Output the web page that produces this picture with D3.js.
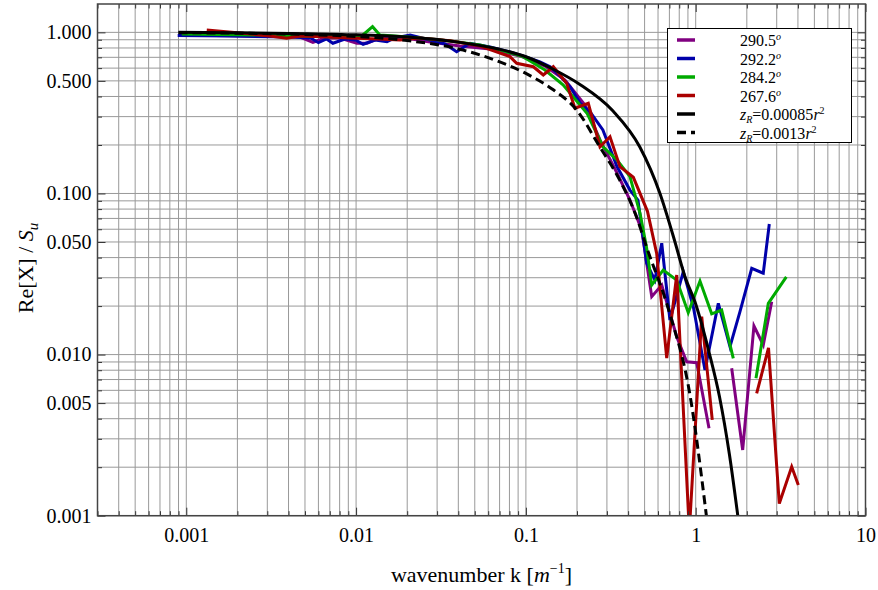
<!DOCTYPE html>
<html><head><meta charset="utf-8">
<script src="https://cdn.jsdelivr.net/npm/d3@7"></script>
<style>
body{margin:0;background:#fff}
text{font-family:"Liberation Serif","Times New Roman",serif;fill:#000}
</style>
</head><body>
<svg id="chart" width="878" height="590"></svg>
<script>
// ---------- data (k [1/m], Re[X]/S_u) ----------
const xTickValues = [0.001, 0.01, 0.1, 1, 10];
const xTickLabels = ["0.001", "0.01", "0.1", "1", "10"];
const yTickValues = [1, 0.5, 0.1, 0.05, 0.01, 0.005, 0.001];
const yTickLabels = ["1.000", "0.500", "0.100", "0.050", "0.010", "0.005", "0.001"];

const seriesAngles = ["290.5", "292.2", "284.2", "267.6"];
const fitCoefficients = ["0.00085", "0.0013"];

const s290_5 = [[0.00092,0.964],[0.00237,0.950],[0.00468,0.936],[0.00557,0.868],[0.00656,0.923],[0.00804,0.923],[0.0101,0.856],[0.0116,0.856],[0.0138,0.923],[0.0181,0.936],[0.0272,0.872],[0.0409,0.823],[0.0615,0.789],[0.0923,0.714],[0.1295,0.618],[0.170,0.506],[0.2228,0.354],[0.2731,0.215],[0.3441,0.134],[0.410,0.0911],[0.481,0.0593],[0.551,0.0229],[0.631,0.0270],[0.773,0.0129],[0.885,0.00903],[1.014,0.00891],[1.198,0.00349],[1.40,null],[1.629,0.00822],[1.891,0.00256],[2.203,0.01505],[2.50,0.01147],[2.803,0.0213]];

const s292_2 = [[0.00089,0.957],[0.0018,0.950],[0.0041,0.936],[0.0054,0.923],[0.0060,0.863],[0.0067,0.910],[0.0073,0.856],[0.0086,0.910],[0.0099,0.897],[0.0110,0.844],[0.0129,0.897],[0.0152,0.876],[0.0169,0.923],[0.0208,0.964],[0.0272,0.897],[0.0334,0.847],[0.0391,0.759],[0.0469,0.856],[0.0615,0.812],[0.0805,0.756],[0.0962,0.714],[0.121,0.655],[0.139,0.612],[0.159,0.536],[0.182,0.460],[0.208,0.365],[0.2385,0.322],[0.284,0.248],[0.344,0.147],[0.410,0.105],[0.457,0.0911],[0.514,0.0370],[0.575,0.0290],[0.631,0.0491],[0.705,0.0164],[0.845,0.0327],[0.968,0.0198],[1.134,0.00802],[1.359,0.0208],[1.592,0.0112],[1.823,0.0185],[2.138,0.0343],[2.50,0.0320],[2.713,0.0647]];

const s284_2 = [[0.00094,0.977],[0.00272,0.964],[0.00468,0.950],[0.00804,0.936],[0.0108,0.950],[0.0125,1.085],[0.0138,0.964],[0.0169,0.950],[0.0238,0.923],[0.0357,0.884],[0.0537,0.835],[0.0703,0.778],[0.0962,0.707],[0.1295,0.584],[0.1655,0.472],[0.229,0.315],[0.2844,0.195],[0.3441,0.1614],[0.410,0.1271],[0.470,0.0753],[0.514,0.046],[0.551,0.0270],[0.644,0.0335],[0.773,0.0290],[0.904,0.0182],[1.060,0.0286],[1.242,0.0179],[1.422,0.0189],[1.665,0.00948],[1.95,null],[2.265,0.00713],[2.677,0.0208],[3.418,0.0304]];

const s267_6 = [[0.00132,1.035],[0.00207,0.991],[0.00311,0.950],[0.0039,0.919],[0.00468,0.950],[0.00702,0.936],[0.00921,0.923],[0.0135,0.910],[0.0181,0.897],[0.0238,0.923],[0.0357,0.888],[0.0537,0.823],[0.0805,0.707],[0.0883,0.643],[0.1106,0.612],[0.1266,0.544],[0.145,0.612],[0.1738,0.483],[0.1946,0.338],[0.2331,0.363],[0.2731,0.195],[0.3128,0.225],[0.358,0.1466],[0.4293,0.126],[0.52,0.0775],[0.589,0.0425],[0.675,0.0095],[0.773,0.0312],[0.917,0.0008],[1.085,0.0172],[1.252,0.00393],[1.70,null],[2.286,0.00575],[2.684,0.0110],[3.107,0.00119],[3.676,0.00201],[4.021,0.00155]];

const fitA = [[0.0009,1.0],[0.002,0.995],[0.005,0.982],[0.01,0.965],[0.02,0.935],[0.04,0.87],[0.07,0.785],[0.1,0.706],[0.145,0.59],[0.208,0.475],[0.326,0.325],[0.468,0.195],[0.616,0.1],[0.755,0.05],[0.86,0.031],[1.0,0.0206],[1.2,0.0103],[1.38,0.0055],[1.58,0.0024],[1.77,0.001]];

const fitB = [[0.0009,0.995],[0.002,0.988],[0.005,0.97],[0.01,0.943],[0.02,0.89],[0.0427,0.776],[0.0702,0.655],[0.1,0.556],[0.145,0.44],[0.199,0.33],[0.272,0.195],[0.357,0.121],[0.448,0.0717],[0.513,0.0467],[0.703,0.018],[0.922,0.00574],[1.156,0.001]];

// ---------- drawing ----------
const svg = d3.select("#chart");
const L = 97.5, R = 865.5, T = 4, B = 515.7;
const x = d3.scaleLog().domain([0.0003, 10]).range([L, R]);
const y = d3.scaleLog().domain([0.001, 1.5]).range([B, T]);
const FONT = "'Liberation Serif','Times New Roman',serif";

const gridX = [], gridY = [];
for (let n = -4; n <= 1; n++) for (let m = 1; m <= 9; m++) {
  const v = +(m * Math.pow(10, n)).toPrecision(6);
  if (v >= 0.0003 - 1e-9 && v <= 10 + 1e-9) gridX.push(v);
  if (v >= 0.001 - 1e-9 && v <= 1.5) gridY.push(v);
}

svg.append("rect").attr("width", 878).attr("height", 590).attr("fill", "#fff");

const grid = svg.append("g").attr("stroke", "#999").attr("stroke-width", 1);
grid.selectAll("line.gx").data(gridX).join("line")
  .attr("x1", d => x(d)).attr("x2", d => x(d)).attr("y1", T).attr("y2", B);
grid.selectAll("line.gy").data(gridY).join("line")
  .attr("y1", d => y(d)).attr("y2", d => y(d)).attr("x1", L).attr("x2", R);

svg.append("defs").append("clipPath").attr("id", "clip")
  .append("rect").attr("x", L).attr("y", T).attr("width", R - L).attr("height", B - T);

const line = d3.line().defined(d => d[1] != null).x(d => x(d[0])).y(d => y(d[1]));
const smooth = d3.line().x(d => x(d[0])).y(d => y(d[1])).curve(d3.curveMonotoneX);

const colors = ["#800080", "#0000aa", "#00aa00", "#aa0000"];
const plot = svg.append("g").attr("clip-path", "url(#clip)");
[s290_5, s292_2, s284_2, s267_6].forEach((s, i) => {
  plot.append("path").datum(s).attr("d", line).attr("fill", "none")
    .attr("stroke", colors[i]).attr("stroke-width", 3).attr("stroke-linejoin", "miter");
});
plot.append("path").datum(fitA).attr("d", smooth).attr("fill", "none")
  .attr("stroke", "#000").attr("stroke-width", 3);
plot.append("path").datum(fitB).attr("d", smooth).attr("fill", "none")
  .attr("stroke", "#000").attr("stroke-width", 3).attr("stroke-dasharray", "9,5");

const tickCol = "#333";
const isMajorX = v => xTickValues.some(t => Math.abs(t - v) / t < 1e-6);
const isMajorY = v => yTickValues.some(t => Math.abs(t - v) / t < 1e-6);
const minorX = gridX.filter(v => !isMajorX(v));
const minorY = gridY.filter(v => !isMajorY(v));

function axisG(axis, tr) {
  const g = svg.append("g").attr("transform", tr).call(axis);
  g.attr("font-family", FONT);
  g.select(".domain").remove();
  g.selectAll(".tick line").attr("stroke", tickCol).attr("stroke-width", 1);
  return g;
}
const bx = axisG(d3.axisBottom(x).tickValues(xTickValues).tickFormat((d, i) => xTickLabels[i]).tickSize(-8).tickPadding(12), `translate(0,${B})`);
bx.selectAll("text").attr("font-size", 20).attr("font-family", FONT);
axisG(d3.axisBottom(x).tickValues(minorX).tickFormat("").tickSize(-4.5), `translate(0,${B})`);
axisG(d3.axisTop(x).tickValues(xTickValues).tickFormat("").tickSize(-8), `translate(0,${T})`);
axisG(d3.axisTop(x).tickValues(minorX).tickFormat("").tickSize(-4.5), `translate(0,${T})`);
const ly = axisG(d3.axisLeft(y).tickValues(yTickValues).tickFormat((d, i) => yTickLabels[i]).tickSize(-8).tickPadding(6), `translate(${L},0)`);
ly.selectAll("text").attr("font-size", 20).attr("font-family", FONT);
axisG(d3.axisLeft(y).tickValues(minorY).tickFormat("").tickSize(-4.5), `translate(${L},0)`);
axisG(d3.axisRight(y).tickValues(yTickValues).tickFormat("").tickSize(-8), `translate(${R},0)`);
axisG(d3.axisRight(y).tickValues(minorY).tickFormat("").tickSize(-4.5), `translate(${R},0)`);

svg.append("rect").attr("x", L).attr("y", T).attr("width", R - L).attr("height", B - T)
  .attr("fill", "none").attr("stroke", "#444").attr("stroke-width", 1.5);

// axis titles
const xt = svg.append("text").attr("x", (L + R) / 2).attr("y", 582).attr("text-anchor", "middle")
  .attr("font-size", 22).attr("font-family", FONT);
xt.append("tspan").text("wavenumber k [");
xt.append("tspan").attr("font-style", "italic").text("m");
xt.append("tspan").attr("font-size", 14).attr("dy", -9).text("\u22121");
xt.append("tspan").attr("dy", 9).text("]");

const yt = svg.append("text").attr("transform", `translate(33,268) rotate(-90)`)
  .attr("text-anchor", "middle").attr("font-size", 22).attr("font-family", FONT);
yt.append("tspan").text("Re[X] / ");
yt.append("tspan").attr("font-style", "italic").text("S");
yt.append("tspan").attr("font-style", "italic").attr("font-size", 15).attr("dy", 5).text("u");

// legend
const lg = svg.append("g").attr("font-family", FONT);
lg.append("rect").attr("x", 667.5).attr("y", 28.5).attr("width", 184).attr("height", 114)
  .attr("fill", "#fff").attr("stroke", "#000").attr("stroke-width", 1);
const rowY = i => 40 + i * 18.5;
seriesAngles.forEach((a, i) => {
  lg.append("line").attr("x1", 677).attr("x2", 695).attr("y1", rowY(i)).attr("y2", rowY(i))
    .attr("stroke", colors[i]).attr("stroke-width", 3.5);
  const t = lg.append("text").attr("x", 740).attr("y", rowY(i) + 6).attr("font-size", 16);
  t.append("tspan").text(a);
  t.append("tspan").attr("font-style", "italic").attr("font-size", 10).attr("dy", -6).text("o");
});
fitCoefficients.forEach((c, j) => {
  const i = 4 + j;
  lg.append("line").attr("x1", 677).attr("x2", 695).attr("y1", rowY(i)).attr("y2", rowY(i))
    .attr("stroke", "#000").attr("stroke-width", 3.5).attr("stroke-dasharray", j ? "9,5" : null);
  const t = lg.append("text").attr("x", 740).attr("y", rowY(i) + 6).attr("font-size", 16);
  t.append("tspan").attr("font-style", "italic").text("z");
  t.append("tspan").attr("font-style", "italic").attr("font-size", 10).attr("dy", 3).text("R");
  t.append("tspan").attr("dy", -3).text("=" + c);
  t.append("tspan").attr("font-style", "italic").text("r");
  t.append("tspan").attr("font-size", 10).attr("dy", -6).text("2");
});
</script>
</body></html>
